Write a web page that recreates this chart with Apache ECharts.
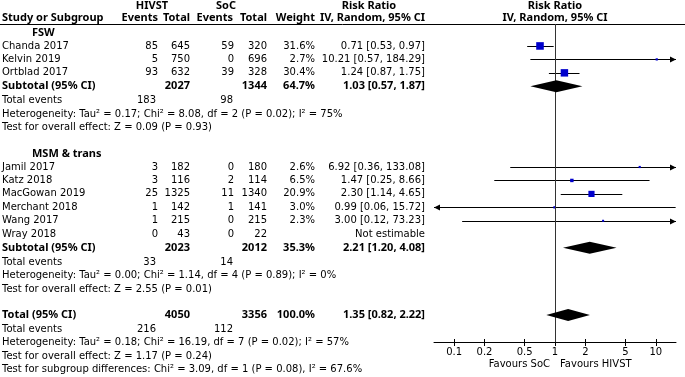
<!DOCTYPE html>
<html><head><meta charset="utf-8">
<script src="https://cdn.jsdelivr.net/npm/echarts@6/dist/echarts.min.js"></script>
<style>html,body{margin:0;padding:0;background:#fff}#c{width:685px;height:377px}</style>
</head><body><div id="c"></div>
<script>
// ---------- DATA ----------
const fswStudies = ['Chanda 2017', 'Kelvin 2019', 'Ortblad 2017'];
const fswHivstEvents = [85, 5, 93];
const fswHivstTotal = [645, 750, 632];
const fswSocEvents = [59, 0, 39];
const fswSocTotal = [320, 696, 328];
const fswWeight = [31.6, 2.7, 30.4];
const fswRR = [0.71, 10.21, 1.24];
const fswLo = [0.53, 0.57, 0.87];
const fswHi = [0.97, 184.29, 1.75];

const msmStudies = ['Jamil 2017', 'Katz 2018', 'MacGowan 2019', 'Merchant 2018', 'Wang 2017', 'Wray 2018'];
const msmHivstEvents = [3, 3, 25, 1, 1, 0];
const msmHivstTotal = [182, 116, 1325, 142, 215, 43];
const msmSocEvents = [0, 2, 11, 1, 0, 0];
const msmSocTotal = [180, 114, 1340, 141, 215, 22];
const msmWeight = [2.6, 6.5, 20.9, 3.0, 2.3, null];
const msmRR = [6.92, 1.47, 2.30, 0.99, 3.00, null];
const msmLo = [0.36, 0.25, 1.14, 0.06, 0.12, null];
const msmHi = [133.08, 8.66, 4.65, 15.72, 73.23, null];

// subtotal / total: [hivstTotal, socTotal, weight, rr, lo, hi, hivstEvents, socEvents]
const fswSubtotal = [2027, 1344, 64.7, 1.03, 0.57, 1.87, 183, 98];
const msmSubtotal = [2023, 2012, 35.3, 2.21, 1.20, 4.08, 33, 14];
const overallTotal = [4050, 3356, 100.0, 1.35, 0.82, 2.22, 216, 112];

const fswStats = ['Heterogeneity: Tau² = 0.17; Chi² = 8.08, df = 2 (P = 0.02); I² = 75%', 'Test for overall effect: Z = 0.09 (P = 0.93)'];
const msmStats = ['Heterogeneity: Tau² = 0.00; Chi² = 1.14, df = 4 (P = 0.89); I² = 0%', 'Test for overall effect: Z = 2.55 (P = 0.01)'];
const totalStats = ['Heterogeneity: Tau² = 0.18; Chi² = 16.19, df = 7 (P = 0.02); I² = 57%', 'Test for overall effect: Z = 1.17 (P = 0.24)', 'Test for subgroup differences: Chi² = 3.09, df = 1 (P = 0.08), I² = 67.6%'];

const tickValues = [0.1, 0.2, 0.5, 1, 2, 5, 10];

// ---------- LAYOUT ----------
const FONT = '"DejaVu Sans", Verdana, sans-serif';
const BFONT = 'bold 11px "Noto Sans", "DejaVu Sans", sans-serif';
const RFONT = '10px ' + FONT;
const AX_MIN = -1.2, AX_MAX = 1.2;
const ROW_MIN = -0.632, ROW_MAX = 23.012;
const fswRow0 = 1, msmRow0 = 10;
const fswSubRow = 4, msmSubRow = 16, totRow = 21;

const L = Math.log10;
const ciData = [], sqData = [];
function addStudies(rr, lo, hi, w, r0) {
  rr.forEach((v, i) => {
    if (v == null) return;
    ciData.push([L(lo[i]), L(hi[i]), r0 + i]);
    sqData.push([L(v), r0 + i, w[i]]);
  });
}
addStudies(fswRR, fswLo, fswHi, fswWeight, fswRow0);
addStudies(msmRR, msmLo, msmHi, msmWeight, msmRow0);
const diaData = [
  [L(fswSubtotal[4]), L(fswSubtotal[3]), L(fswSubtotal[5]), fswSubRow],
  [L(msmSubtotal[4]), L(msmSubtotal[3]), L(msmSubtotal[5]), msmSubRow],
  [L(overallTotal[4]), L(overallTotal[3]), L(overallTotal[5]), totRow]
];
const tickLogs = tickValues.map(L);

const chart = echarts.init(document.getElementById('c'), null, {renderer: 'canvas'});
const axisCommon = {type: 'value', min: AX_MIN, max: AX_MAX, position: 'bottom', splitLine: {show: false}};
chart.setOption({
  animation: false,
  grid: {left: 434, right: 9, top: 24, bottom: 35, outerBoundsMode: 'none'},
  xAxis: [
    Object.assign({}, axisCommon, {
      axisLine: {show: true, onZero: false, lineStyle: {color: '#000', width: 1}},
      axisTick: {show: true, customValues: tickLogs, length: 4, inside: false, lineStyle: {color: '#000', width: 1}},
      axisLabel: {show: true, customValues: tickLogs, margin: 5, color: '#000', fontSize: 10, fontFamily: FONT,
        formatter: v => { let best = tickValues[0]; tickValues.forEach(t => { if (Math.abs(L(t) - v) < Math.abs(L(best) - v)) best = t; }); return String(best); }}
    }),
    Object.assign({}, axisCommon, {
      axisLine: {show: false, onZero: false},
      axisTick: {show: true, customValues: tickLogs, length: 3, inside: true, lineStyle: {color: '#000', width: 1}},
      axisLabel: {show: false}
    })
  ],
  yAxis: {type: 'value', min: ROW_MIN, max: ROW_MAX, inverse: true, show: false},
  series: [
    {
      type: 'custom', name: 'ci', data: ciData, z: 3,
      renderItem: function (params, api) {
        const cs = params.coordSys;
        const xmin = cs.x, xmax = cs.x + cs.width;
        const lo = api.value(0), hi = api.value(1), r = api.value(2);
        const p1 = api.coord([Math.max(lo, AX_MIN), r]);
        const p2 = api.coord([Math.min(hi, AX_MAX), r]);
        const y = Math.round(p1[1]) + 0.5;
        const children = [{type: 'line', shape: {x1: p1[0], y1: y, x2: p2[0], y2: y}, style: {stroke: '#000', lineWidth: 1}}];
        if (hi > AX_MAX) children.push({type: 'polygon', shape: {points: [[xmax, y], [xmax - 6, y - 3], [xmax - 6, y + 3]]}, style: {fill: '#000'}});
        if (lo < AX_MIN) children.push({type: 'polygon', shape: {points: [[xmin, y], [xmin + 6, y - 3], [xmin + 6, y + 3]]}, style: {fill: '#000'}});
        return {type: 'group', children: children};
      },
      markLine: {silent: true, symbol: 'none', animation: false, label: {show: false},
        lineStyle: {color: '#333', width: 1, type: 'solid'}, data: [{xAxis: 0}]}
    },
    {
      type: 'scatter', name: 'sq', data: sqData, z: 4, symbol: 'rect',
      symbolSize: v => 1.35 * Math.sqrt(v[2]),
      itemStyle: {color: '#0000CC', opacity: 1}
    },
    {
      type: 'custom', name: 'diamond', data: diaData, z: 5,
      renderItem: function (params, api) {
        const r = api.value(3);
        const a = api.coord([api.value(0), r]);
        const m = api.coord([api.value(1), r]);
        const b = api.coord([api.value(2), r]);
        return {type: 'polygon', shape: {points: [[a[0], a[1]], [m[0], m[1] - 6], [b[0], b[1]], [m[0], m[1] + 6]]}, style: {fill: '#000'}};
      }
    }
  ]
});

// ---------- TABLE TEXT ----------
const rowY = r => chart.convertToPixel({yAxisIndex: 0}, r);
const g = [];
function T(y, x, s, align, bold) {
  g.push({type: 'text', x: x, y: y, silent: true,
    style: {text: String(s), fill: '#000', font: bold ? BFONT : RFONT, align: align || 'left', verticalAlign: 'middle'}});
}
const C = {name: 2, sub: 32, he: 158, ht: 190, se: 234, st: 267, w: 315, rr: 425, te1: 156, te2: 233};
const ci = (rr, lo, hi) => rr.toFixed(2) + ' [' + lo.toFixed(2) + ', ' + hi.toFixed(2) + ']';

// headers
T(5.5, 152, 'HIVST', 'center', true);
T(5.5, 226, 'SoC', 'center', true);
T(5.5, 369, 'Risk Ratio', 'center', true);
T(5.5, 555, 'Risk Ratio', 'center', true);
T(17.5, C.name, 'Study or Subgroup', 'left', true);
T(17.5, 158, 'Events', 'right', true);
T(17.5, C.ht, 'Total', 'right', true);
T(17.5, 233, 'Events', 'right', true);
T(17.5, C.st, 'Total', 'right', true);
T(17.5, C.w, 'Weight', 'right', true);
T(17.5, 425, 'IV, Random, 95% CI', 'right', true);
T(17.5, 555, 'IV, Random, 95% CI', 'center', true);
g.push({type: 'line', silent: true, shape: {x1: 0, y1: 24.5, x2: 685, y2: 24.5}, style: {stroke: '#000', lineWidth: 1}});

function block(title, r0, names, he, ht, se, st, w, rr, lo, hi, sub, subRow, stats) {
  T(rowY(r0 - 1), C.sub, title, 'left', true);
  names.forEach((n, i) => {
    const y = rowY(r0 + i);
    T(y, C.name, n, 'left');
    T(y, C.he, he[i], 'right'); T(y, C.ht, ht[i], 'right');
    T(y, C.se, se[i], 'right'); T(y, C.st, st[i], 'right');
    if (w[i] != null) T(y, C.w, w[i].toFixed(1) + '%', 'right');
    T(y, C.rr, rr[i] != null ? ci(rr[i], lo[i], hi[i]) : 'Not estimable', 'right');
  });
  const ys = rowY(subRow);
  T(ys, C.name, 'Subtotal (95% CI)', 'left', true);
  T(ys, C.ht, sub[0], 'right', true); T(ys, C.st, sub[1], 'right', true);
  T(ys, C.w, sub[2].toFixed(1) + '%', 'right', true);
  T(ys, C.rr, ci(sub[3], sub[4], sub[5]), 'right', true);
  const ye = rowY(subRow + 1) + 1;
  T(ye, C.name, 'Total events', 'left'); T(ye, C.te1, sub[6], 'right'); T(ye, C.te2, sub[7], 'right');
  stats.forEach((s, k) => T(rowY(subRow + 2 + k) + 1, C.name, s, 'left'));
}
block('FSW', fswRow0, fswStudies, fswHivstEvents, fswHivstTotal, fswSocEvents, fswSocTotal, fswWeight, fswRR, fswLo, fswHi, fswSubtotal, fswSubRow, fswStats);
block('MSM & trans', msmRow0, msmStudies, msmHivstEvents, msmHivstTotal, msmSocEvents, msmSocTotal, msmWeight, msmRR, msmLo, msmHi, msmSubtotal, msmSubRow, msmStats);

const yt = rowY(totRow);
T(yt, C.name, 'Total (95% CI)', 'left', true);
T(yt, C.ht, overallTotal[0], 'right', true); T(yt, C.st, overallTotal[1], 'right', true);
T(yt, C.w, overallTotal[2].toFixed(1) + '%', 'right', true);
T(yt, C.rr, ci(overallTotal[3], overallTotal[4], overallTotal[5]), 'right', true);
const yte = rowY(totRow + 1) + 1;
T(yte, C.name, 'Total events'); T(yte, C.te1, overallTotal[6], 'right'); T(yte, C.te2, overallTotal[7], 'right');
totalStats.forEach((s, k) => T(rowY(totRow + 2 + k) + 1, C.name, s, 'left'));

// favours labels
T(364, 550, 'Favours SoC', 'right');
T(364, 560, 'Favours HIVST', 'left');

chart.setOption({graphic: {elements: g}});
</script>
</body></html>
